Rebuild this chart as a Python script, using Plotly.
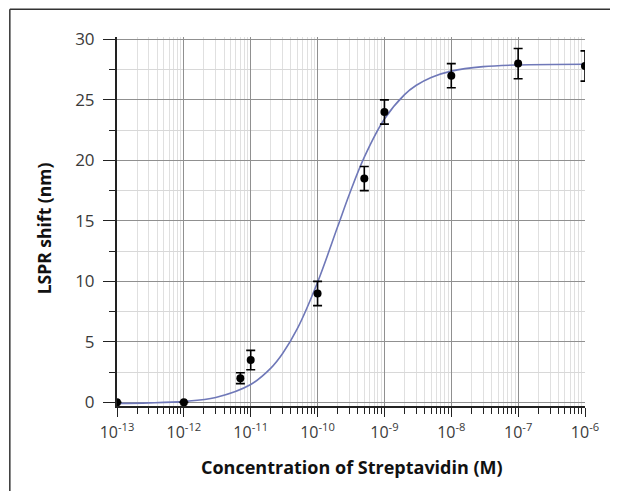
import plotly.graph_objects as go

# measured data points
conc = [1e-13, 1e-12, 7e-12, 1e-11, 1e-10, 5e-10, 1e-9, 1e-8, 1e-7, 1e-6]
shift = [0.0, 0.0, 2.0, 3.5, 9.0, 18.5, 24.0, 27.0, 28.0, 27.8]
err = [0.0, 0.0, 0.45, 0.8, 1.0, 1.0, 1.0, 1.0, 1.25, 1.25]

# fitted curve
fit_x = [1e-13, 3e-13, 1e-12, 3e-12, 1e-11, 2e-11, 3e-11, 5e-11, 1e-10, 2e-10,
         3e-10, 5e-10, 1e-9, 2e-9, 3e-9, 5e-9, 1e-8, 3e-8, 1e-7, 1e-6]
fit_y = [-0.08, -0.04, 0.08, 0.41, 1.48, 2.83, 4.04, 6.11, 9.93, 14.53,
         17.23, 20.27, 23.42, 25.44, 26.21, 26.86, 27.38, 27.75, 27.89, 27.95]

x_tickvals = [1e-13, 1e-12, 1e-11, 1e-10, 1e-9, 1e-8, 1e-7, 1e-6]
x_ticktext = ["10<sup>-13</sup>", "10<sup>-12</sup>", "10<sup>-11</sup>", "10<sup>-10</sup>",
              "10<sup>-9</sup>", "10<sup>-8</sup>", "10<sup>-7</sup>", "10<sup>-6</sup>"]
y_tickvals = [0, 5, 10, 15, 20, 25, 30]

x_title = "Concentration of Streptavidin (M)"
y_title = "LSPR shift (nm)"

fig = go.Figure()
fig.add_trace(go.Scatter(
    x=fit_x, y=fit_y, mode="lines", line=dict(color="#6f78b8", width=1.6, shape="spline"),
    hoverinfo="skip", showlegend=False))
fig.add_trace(go.Scatter(
    x=conc, y=shift, mode="markers",
    marker=dict(color="black", size=8),
    error_y=dict(type="data", array=err, visible=True, color="black", thickness=1.6, width=4.5),
    showlegend=False))

font_family = "Open Sans, Noto Sans, DejaVu Sans, sans-serif"

fig.update_layout(
    width=610, height=483,
    margin=dict(l=109, r=33, t=29, b=85, autoexpand=False),
    paper_bgcolor="white", plot_bgcolor="white",
    font=dict(family=font_family, size=16, color="#3a3a3a"),
    xaxis=dict(
        type="log", range=[-13, -6],
        tickvals=x_tickvals, ticktext=x_ticktext,
        ticks="outside", ticklen=9, tickwidth=1.3, tickcolor="#222",
        showline=True, linecolor="#222", linewidth=1.6,
        showgrid=True, gridcolor="#909090", gridwidth=1.2,
        minor=dict(ticks="outside", ticklen=6, tickcolor="#222", tickwidth=1,
                   dtick="D1", showgrid=True, gridcolor="#e0e0e0", gridwidth=1),
        tickfont=dict(size=16, color="#3a3a3a"),
        ticklabelstandoff=2,
        zeroline=False,
    ),
    yaxis=dict(
        range=[-0.3, 30.2],
        tickvals=y_tickvals,
        ticks="outside", ticklen=12, tickwidth=1.3, tickcolor="#222",
        showline=True, linecolor="#222", linewidth=2,
        showgrid=True, gridcolor="#909090", gridwidth=1.2,
        minor=dict(ticks="outside", ticklen=6, tickcolor="#222", tickwidth=1.2,
                   dtick=2.5, showgrid=True, gridcolor="#d8d8d8", gridwidth=1),
        tickfont=dict(size=17, color="#3a3a3a"),
        ticklabelstandoff=5,
        zeroline=False,
    ),
    annotations=[
        dict(text="<b>" + x_title + "</b>", xref="paper", yref="paper", x=0.502, y=-0.166,
             xanchor="center", yanchor="middle", showarrow=False,
             font=dict(size=18, color="#111111")),
        dict(text="<b>" + y_title + "</b>", xref="paper", yref="paper", x=-0.156, y=0.4816,
             xanchor="center", yanchor="middle", textangle=-90, showarrow=False,
             font=dict(size=17.5, color="#111111")),
    ],
    shapes=[
        dict(type="line", xref="paper", yref="paper", x0=-0.229, x1=1.2, y0=1.075, y1=1.075,
             line=dict(color="#333333", width=1.5)),
        dict(type="line", xref="paper", yref="paper", x0=-0.229, x1=-0.229, y0=-0.3, y1=1.075,
             line=dict(color="#333333", width=1.5)),
    ],
)

fig.write_html("out.html")
